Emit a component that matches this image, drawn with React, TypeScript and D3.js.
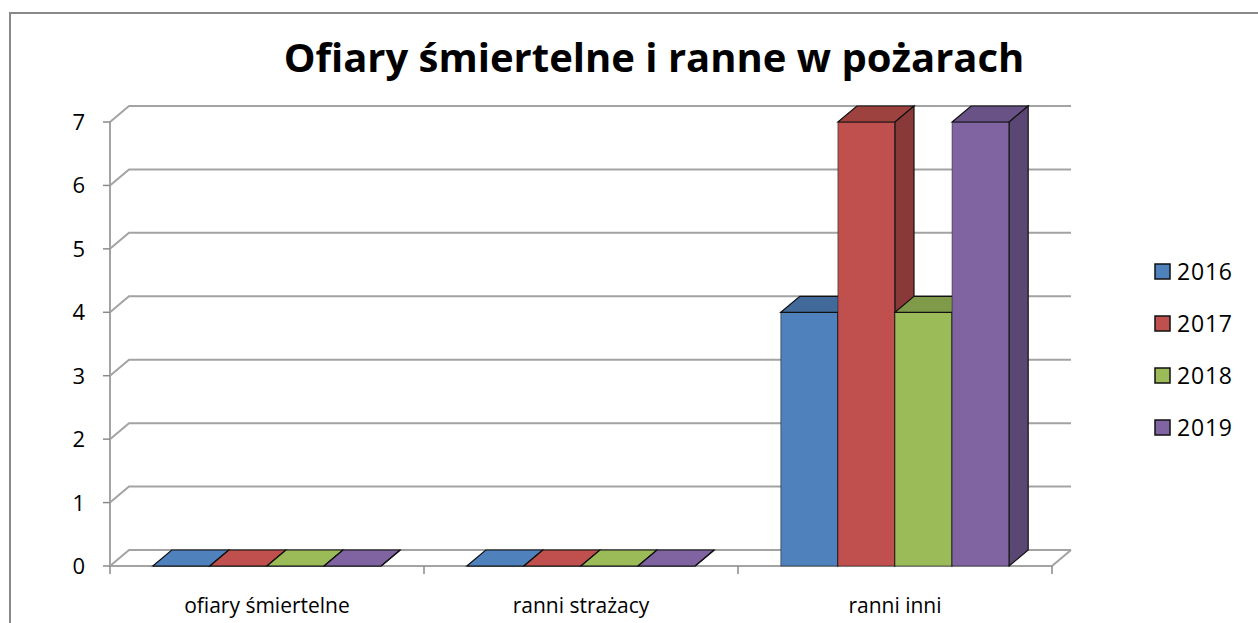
import React from "react";
import * as d3 from "d3";

// data
const categories = ["ofiary śmiertelne", "ranni strażacy", "ranni inni"];
const years = ["2016", "2017", "2018", "2019"];
const values2016 = [0, 0, 4];
const values2017 = [0, 0, 7];
const values2018 = [0, 0, 4];
const values2019 = [0, 0, 7];
const yTicks = [0, 1, 2, 3, 4, 5, 6, 7];
const colors = ["#4f81bd", "#c0504d", "#9bbb59", "#8064a2"];

const seriesValues = [values2016, values2017, values2018, values2019];

const W = 1258, H = 623;
const left = 110, right = 1052, top = 122, bottom = 566;
const depthX = 19, depthY = -16;
const font = "'Open Sans', sans-serif";
const gridColor = "#a3a3a3";

export default function App() {
    const x = d3.scaleBand().domain(categories).range([left, right]).paddingInner(0).paddingOuter(0);
    const xs = d3.scaleBand().domain(years).range([0, x.bandwidth()]).paddingInner(0).paddingOuter(0.75);
    const y = d3.scaleLinear().domain([0, 7]).range([bottom, top]);

    const bars: JSX.Element[] = [];
    categories.forEach((cat, ci) => {
        years.forEach((yr, si) => {
            const v = seriesValues[si][ci];
            const x0 = (x(cat) as number) + (xs(yr) as number);
            const x1 = x0 + xs.bandwidth();
            const y0 = y(0), y1 = y(v);
            const base = d3.color(colors[si]) as d3.RGBColor;
            const topCol = base.darker(0.55).formatHex();
            const sideCol = base.darker(0.95).formatHex();
            const front = `M${x0},${y0}L${x0},${y1}L${x1},${y1}L${x1},${y0}Z`;
            const topFace = `M${x0},${y1}L${x0 + depthX},${y1 + depthY}L${x1 + depthX},${y1 + depthY}L${x1},${y1}Z`;
            const side = `M${x1},${y0}L${x1},${y1}L${x1 + depthX},${y1 + depthY}L${x1 + depthX},${y0 + depthY}Z`;
            bars.push(
                <g key={cat + yr}>
                    <path d={front} fill={colors[si]} stroke="#1e1e1e" strokeWidth={0.8} strokeOpacity={0.7} />
                    <path d={topFace} fill={v === 0 ? colors[si] : topCol} stroke="#111" strokeWidth={1.2} />
                    <path d={side} fill={sideCol} stroke="#111" strokeWidth={1.2} />
                </g>
            );
        });
    });

    const legendY = d3.scalePoint().domain(years).range([272, 428]);

    return (
        <svg width={W} height={H} style={{ position: "absolute", left: 0, top: 0, background: "#fff" }}>
            {/* chart frame */}
            <path d={`M10,${H}L10,13L${W},13`} fill="none" stroke="#898989" strokeWidth={2} />

            <text x={654} y={72} textAnchor="middle" fontFamily={font} fontWeight="bold" fontSize={40} fill="#000">
                Ofiary śmiertelne i ranne w pożarach
            </text>

            {/* walls / gridlines */}
            {yTicks.map(t => (
                <path key={"g" + t}
                    d={`M${left},${y(t)}L${left + depthX},${y(t) + depthY}L${right + depthX},${y(t) + depthY}`}
                    fill="none" stroke={gridColor} strokeWidth={2} />
            ))}
            <path d={`M${right},${bottom}L${right + depthX},${bottom + depthY}`} stroke={gridColor} strokeWidth={2} />

            {/* axes */}
            <line x1={left} x2={left} y1={top} y2={bottom} stroke={gridColor} strokeWidth={2} />
            <line x1={left} x2={right} y1={bottom} y2={bottom} stroke={gridColor} strokeWidth={2} />
            {yTicks.map(t => (
                <g key={"t" + t}>
                    <line x1={left - 7} x2={left} y1={y(t)} y2={y(t)} stroke="#8a8a8a" strokeWidth={1.5} />
                    <text x={85} y={y(t) + 8} textAnchor="end" fontFamily={font} fontSize={22} fill="#000">{t}</text>
                </g>
            ))}
            {[...categories.map(c => x(c) as number), right].map((px, i) => (
                <line key={"c" + i} x1={px} x2={px} y1={bottom} y2={bottom + 8} stroke="#8a8a8a" strokeWidth={1.5} />
            ))}
            {categories.map(c => (
                <text key={c} x={(x(c) as number) + x.bandwidth() / 2} y={613} textAnchor="middle"
                    fontFamily={font} fontSize={21} fill="#000">{c}</text>
            ))}

            {bars}

            {/* legend */}
            {years.map((yr, i) => (
                <g key={"l" + yr}>
                    <rect x={1155} y={(legendY(yr) as number) - 8} width={15} height={15} fill={colors[i]} stroke="#111" strokeWidth={1.5} />
                    <text x={1177} y={(legendY(yr) as number) + 8} fontFamily={font} fontSize={23} letterSpacing={0.8} fill="#000">{yr}</text>
                </g>
            ))}
        </svg>
    );
}
